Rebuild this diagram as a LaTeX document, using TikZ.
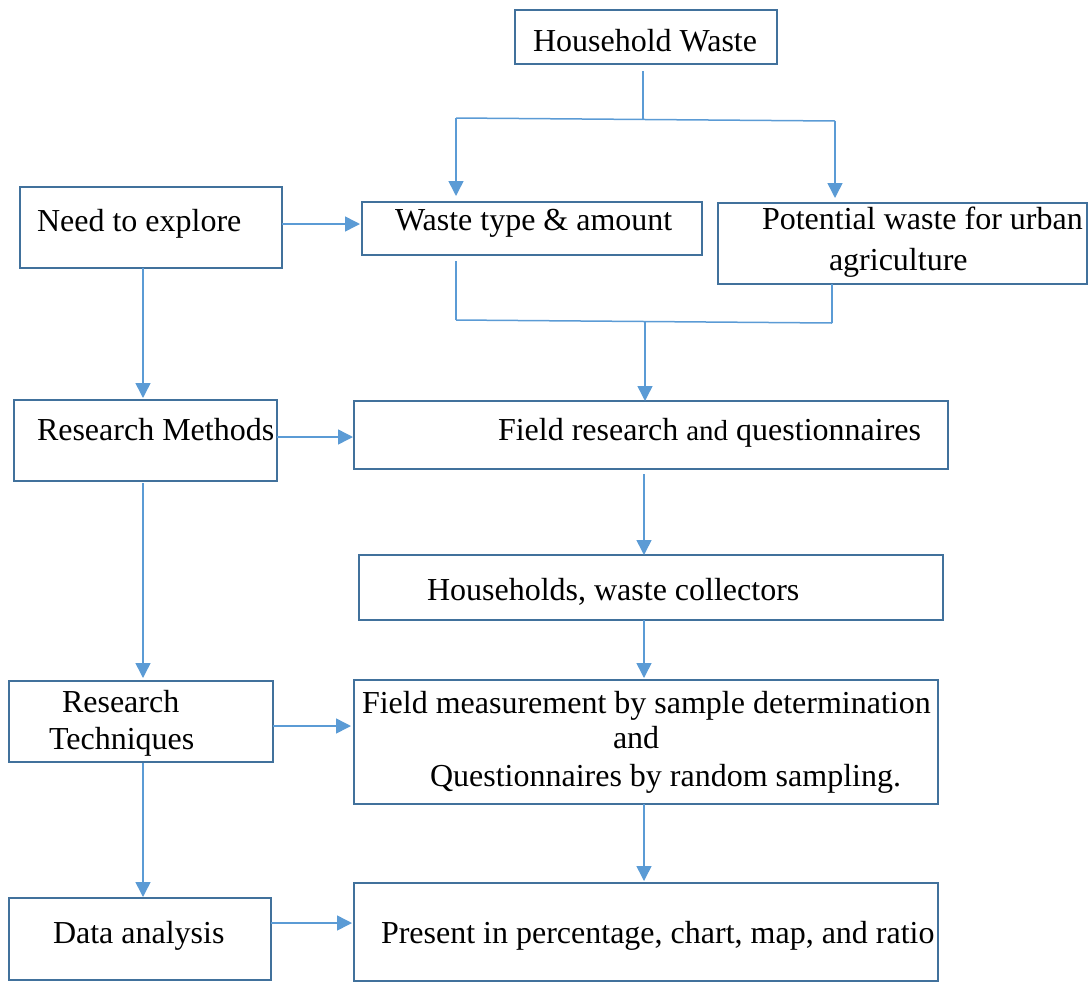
\documentclass[tikz,border=0pt]{standalone}
\usepackage{fontspec}
\setmainfont{Liberation Serif}
\usetikzlibrary{arrows.meta}
\definecolor{boxblue}{HTML}{41719C}
\definecolor{arrblue}{HTML}{5B9BD5}
\tikzset{
  box/.style={draw=boxblue, line width=2.6pt, rectangle, inner sep=0pt, outer sep=0pt},
  txt/.style={anchor=base west, inner sep=0pt, outer sep=0pt, font=\fontsize{32}{37}\selectfont},
  conn/.style={draw=arrblue, line width=1.5pt},
  arr/.style={conn, -{Triangle[length=15pt,width=15pt]}},
}
\newcommand{\bx}[5]{\node[box, minimum width={#4-#2}, minimum height={#5-#3}] (#1) at ({(#2+#4)/2},{(#3+#5)/2}) {};}
\begin{document}
\begin{tikzpicture}[x=1pt,y=-1pt]
\useasboundingbox (0,0) rectangle (1090,983);
% boxes
\bx{hw}{515}{10}{777}{64}
\bx{need}{20}{187}{282}{268}
\bx{wt}{362}{202}{702}{255}
\bx{pot}{718}{203}{1087}{284}
\bx{rm}{14}{400}{277}{481}
\bx{fr}{354}{401}{948}{469}
\bx{hh}{359}{555}{943}{620}
\bx{rt}{9}{681}{273}{762}
\bx{fm}{354}{680}{938}{804}
\bx{da}{9}{898}{271}{980}
\bx{pres}{354}{883}{938}{981}
% texts
\node[txt] (thw) at (533,51) {Household Waste};
\node[txt] (tneed) at (37,231) {Need to explore};
\node[txt] (twt) at (395,230) {Waste type \& amount};
\node[txt] (tpot1) at (762,229) {Potential waste for urban};
\node[txt] (tpot2) at (829,270) {agriculture};
\node[txt] (trm) at (37,440) {Research Methods};
\node[txt] (tfr) at (498,440) {Field research {\fontsize{29}{34}\selectfont and} questionnaires};
\node[txt] (thh) at (427,600) {Households, waste collectors};
\node[txt] (trt1) at (62,712) {Research};
\node[txt] (trt2) at (49,749) {Techniques};
\node[txt] (tfm1) at (362,713) {Field measurement by sample determination};
\node[txt] (tfm2) at (613,748) {and};
\node[txt] (tfm3) at (430,786) {Questionnaires by random sampling.};
\node[txt] (tda) at (53,943) {Data analysis};
\node[txt] (tpres) at (381,943) {Present in percentage, chart, map, and ratio};
% helper coordinates
\coordinate (xl) at (143,0);
\coordinate (xm) at (644,0);
\coordinate (j1) at (643,119);
\coordinate (j1l) at (456,118);
\coordinate (j1r) at (835,121);
\coordinate (j2l) at (456,320);
\coordinate (j2r) at (832,323);
\coordinate (j2) at (645,321);
% top fork
\draw[conn] ([yshift=-7pt]hw.south -| j1) -- (j1);
\draw[conn] (j1l) -- (j1r);
\draw[arr] (j1l) -- ([yshift=6pt]wt.north -| j1l);
\draw[arr] (j1r) -- ([yshift=5pt]pot.north -| j1r);
% merge
\draw[conn] ([yshift=-6pt]wt.south -| j2l) -- (j2l);
\draw[conn] (pot.south -| j2r) -- (j2r);
\draw[conn] (j2l) -- (j2r);
\draw[arr] (j2) -- (fr.north -| j2);
% right column
\draw[arr] ([yshift=-5pt]fr.south -| xm) -- (hh.north -| xm);
\draw[arr] (hh.south -| xm) -- ([yshift=2pt]fm.north -| xm);
\draw[arr] (fm.south -| xm) -- ([yshift=2pt]pres.north -| xm);
% left column
\draw[arr] (need.south -| xl) -- ([yshift=2pt]rm.north -| xl);
\draw[arr] ([yshift=-2pt]rm.south -| xl) -- ([yshift=3pt]rt.north -| xl);
\draw[arr] ([yshift=-1pt]rt.south -| xl) -- ([yshift=1pt]da.north -| xl);
% horizontal arrows
\coordinate (h1) at (0,224);
\coordinate (h2) at (0,437);
\coordinate (h3) at (0,726);
\coordinate (h4) at (0,923);
\draw[arr] (need.east |- h1) -- ([xshift=-2pt]wt.west |- h1);
\draw[arr] (rm.east |- h2) -- ([xshift=-1pt]fr.west |- h2);
\draw[arr] (rt.east |- h3) -- ([xshift=-3pt]fm.west |- h3);
\draw[arr] (da.east |- h4) -- ([xshift=-2pt]pres.west |- h4);
\end{tikzpicture}
\end{document}
